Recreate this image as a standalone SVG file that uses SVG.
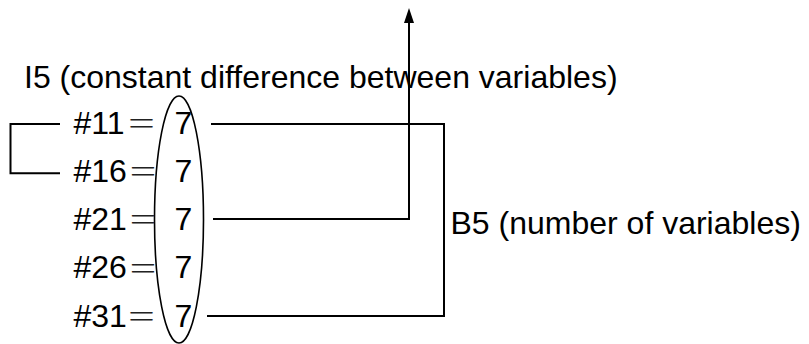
<svg xmlns="http://www.w3.org/2000/svg" width="809" height="344" viewBox="0 0 809 344">
<defs>
<style>
.t{font-family:"Liberation Sans",Arial,sans-serif;font-size:32px;fill:#000}
.eq{font-family:"Noto Sans CJK JP","Noto Sans CJK SC",sans-serif;font-size:30px;font-weight:300;fill:#222}
.ln{fill:none;stroke:#000;stroke-width:2}
</style>
<marker id="ah" viewBox="0 0 15 10" refX="0" refY="5" markerWidth="15" markerHeight="10" markerUnits="userSpaceOnUse" orient="auto">
<path d="M0,0 L15,5 L0,10 Z" fill="#000"/>
</marker>
</defs>
<rect width="809" height="344" fill="#fff"/>
<g id="title"><text class="t" x="24" y="88">I5 (constant difference between variables)</text></g>
<g id="b5label"><text class="t" x="450.5" y="234">B5 (number of variables)</text></g>
<g id="ellipse"><ellipse cx="179" cy="219.5" rx="24.5" ry="123.5" fill="none" stroke="#000" stroke-width="1.6"/></g>
<g id="row11"><text class="t" x="73.5" y="133.5">#11</text><text class="eq" x="126.5" y="134">＝</text><text class="t" x="174.5" y="133.5">7</text></g>
<g id="row16"><text class="t" x="73.5" y="181.7">#16</text><text class="eq" x="128" y="182">＝</text><text class="t" x="174.5" y="181.7">7</text></g>
<g id="row21"><text class="t" x="73.5" y="229.8">#21</text><text class="eq" x="128" y="230">＝</text><text class="t" x="174.5" y="229.8">7</text></g>
<g id="row26"><text class="t" x="73.5" y="278.2">#26</text><text class="eq" x="128" y="278.5">＝</text><text class="t" x="174.5" y="278.2">7</text></g>
<g id="row31"><text class="t" x="73.5" y="326.6">#31</text><text class="eq" x="126.5" y="327">＝</text><text class="t" x="174.5" y="326.6">7</text></g>
<g id="connectors">
<path class="ln" d="M60,124 H10.5 V173.3 H60"/>
<path class="ln" d="M211,124 H444 V316 H207"/>
<path class="ln" d="M213,219 H409 V23" marker-end="url(#ah)"/>
</g>
</svg>
